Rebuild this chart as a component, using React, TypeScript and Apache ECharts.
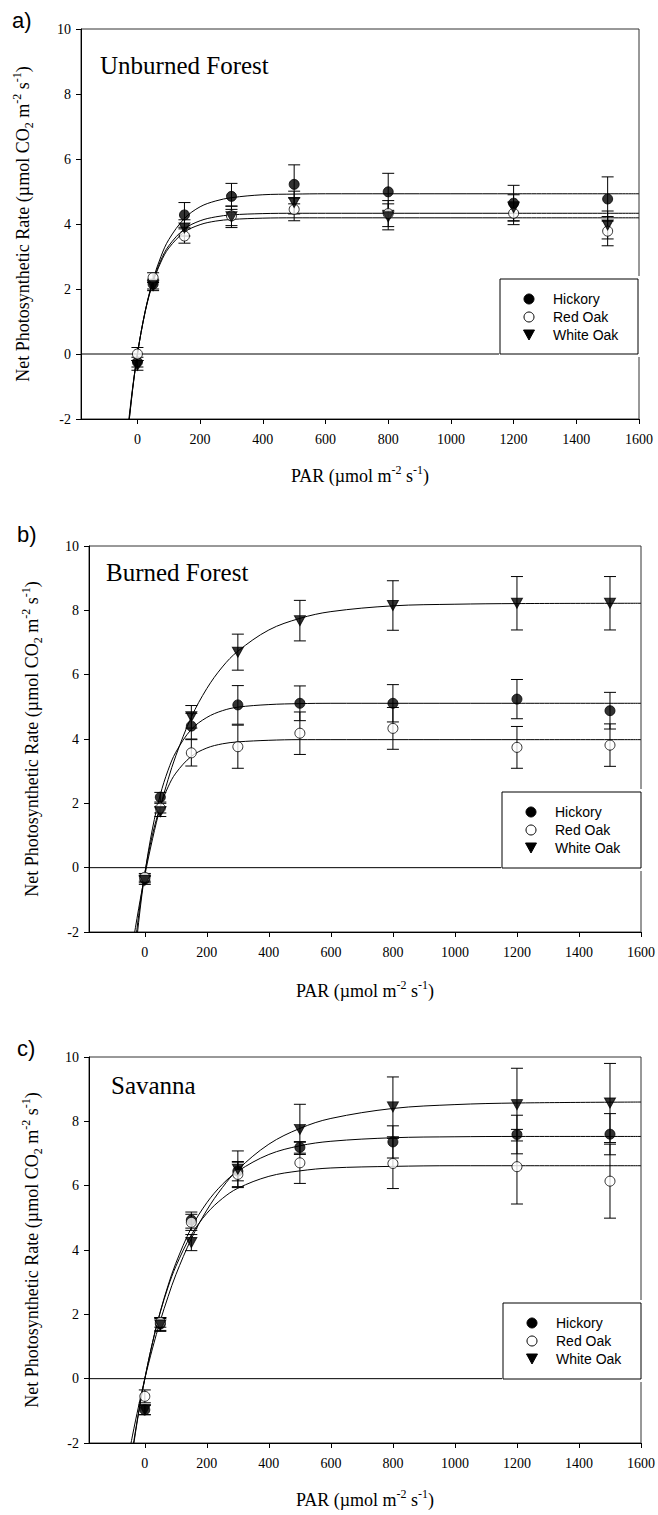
import React, { useEffect, useRef } from "react";
import * as echarts from "echarts";

// ---------- data ----------
const PAR = [0, 50, 150, 300, 500, 800, 1200, 1500];
const CURVE_PAR = [-60, -40, -20, 0, 25, 50, 75, 100, 150, 200, 250, 300, 400, 500, 600, 800, 1000, 1200, 1600];
const X_TICKS = [0, 200, 400, 600, 800, 1000, 1200, 1400, 1600];
const SPECIES = ["Hickory", "Red Oak", "White Oak"];
const PANEL_LABELS = ["a)", "b)", "c)"];
const PANEL_TITLES = ["Unburned Forest", "Burned Forest", "Savanna"];

// a) Unburned Forest
const hickoryA = [-0.25, 2.15, 4.28, 4.85, 5.22, 4.99, 4.64, 4.77];
const hickoryAErr = [0.15, 0.15, 0.38, 0.4, 0.6, 0.57, 0.55, 0.68];
const redOakA = [0.0, 2.35, 3.63, 4.25, 4.45, 4.32, 4.33, 3.78];
const redOakAErr = [0.2, 0.15, 0.22, 0.3, 0.35, 0.4, 0.35, 0.45];
const whiteOakA = [-0.35, 2.1, 3.88, 4.22, 4.66, 4.22, 4.5, 3.97];
const whiteOakAErr = [0.15, 0.15, 0.25, 0.33, 0.35, 0.4, 0.4, 0.43];
const hickoryAFit = [-5.51, -3.2, -1.4, 0, 1.32, 2.29, 3.0, 3.52, 4.17, 4.53, 4.71, 4.81, 4.9, 4.92, 4.93, 4.93, 4.93, 4.93, 4.93];
const redOakAFit = [-6.13, -3.47, -1.48, 0, 1.33, 2.25, 2.89, 3.33, 3.85, 4.1, 4.22, 4.28, 4.32, 4.33, 4.33, 4.33, 4.33, 4.33, 4.33];
const whiteOakAFit = [-6.12, -3.44, -1.47, 0, 1.31, 2.21, 2.83, 3.26, 3.75, 3.98, 4.09, 4.14, 4.18, 4.19, 4.19, 4.19, 4.19, 4.19, 4.19];

// b) Burned Forest
const hickoryB = [-0.35, 2.19, 4.4, 5.06, 5.11, 5.11, 5.24, 4.88];
const hickoryBErr = [0.12, 0.15, 0.4, 0.6, 0.54, 0.58, 0.61, 0.57];
const redOakB = [-0.3, 1.85, 3.57, 3.76, 4.18, 4.33, 3.74, 3.81];
const redOakBErr = [0.12, 0.15, 0.41, 0.67, 0.66, 0.65, 0.65, 0.66];
const whiteOakB = [-0.4, 1.74, 4.69, 6.7, 7.68, 8.15, 8.22, 8.22];
const whiteOakBErr = [0.12, 0.15, 0.35, 0.56, 0.63, 0.77, 0.83, 0.83];
const hickoryBFit = [-6.12, -3.64, -1.7, -0.19, 1.23, 2.27, 3.03, 3.59, 4.3, 4.67, 4.88, 4.99, 5.07, 5.1, 5.11, 5.11, 5.11, 5.11, 5.11];
const redOakBFit = [-5.51, -3.2, -1.49, -0.17, 1.04, 1.9, 2.51, 2.94, 3.46, 3.72, 3.85, 3.91, 3.96, 3.98, 3.98, 3.98, 3.98, 3.98, 3.98];
const whiteOakBFit = [-3.76, -2.45, -1.28, -0.24, 0.9, 1.89, 2.74, 3.48, 4.68, 5.57, 6.24, 6.73, 7.39, 7.75, 7.96, 8.14, 8.19, 8.21, 8.22];

// c) Savanna
const hickoryC = [-0.97, 1.7, 4.93, 6.45, 7.19, 7.36, 7.59, 7.6];
const hickoryCErr = [0.15, 0.2, 0.25, 0.3, 0.18, 0.5, 0.6, 0.64];
const redOakC = [-0.55, 1.75, 4.86, 6.35, 6.71, 6.69, 6.59, 6.14];
const redOakCErr = [0.2, 0.15, 0.25, 0.38, 0.64, 0.78, 1.16, 1.15];
const whiteOakC = [-0.97, 1.67, 4.23, 6.51, 7.75, 8.45, 8.52, 8.57];
const whiteOakCErr = [0.15, 0.2, 0.25, 0.57, 0.78, 0.93, 1.13, 1.23];
const hickoryCFit = [-3.58, -2.23, -1.04, 0, 1.13, 2.09, 2.9, 3.59, 4.69, 5.47, 6.04, 6.45, 6.97, 7.24, 7.38, 7.49, 7.52, 7.53, 7.53];
const redOakCFit = [-3.76, -2.32, -1.07, 0, 1.13, 2.07, 2.85, 3.49, 4.47, 5.14, 5.6, 5.92, 6.29, 6.46, 6.55, 6.6, 6.62, 6.62, 6.62];
const whiteOakCFit = [-2.8, -1.78, -0.85, 0, 0.95, 1.8, 2.55, 3.23, 4.35, 5.24, 5.94, 6.5, 7.29, 7.78, 8.09, 8.4, 8.52, 8.57, 8.6];

// ---------- layout ----------
const SERIF = "'Liberation Serif', 'Times New Roman', serif";
const SANS = "'Liberation Sans', Arial, sans-serif";

const panels = [
  {
    grid: { left: 81, top: 29, width: 558, height: 390 },
    means: [hickoryA, redOakA, whiteOakA],
    errs: [hickoryAErr, redOakAErr, whiteOakAErr],
    fits: [hickoryAFit, redOakAFit, whiteOakAFit],
    letter: [12, 20],
    title: [100, 65],
    yTitleX: 23,
    xTitleY: 476,
    legend: [500, 279, 138, 75],
  },
  {
    grid: { left: 89, top: 546, width: 552, height: 386 },
    means: [hickoryB, redOakB, whiteOakB],
    errs: [hickoryBErr, redOakBErr, whiteOakBErr],
    fits: [hickoryBFit, redOakBFit, whiteOakBFit],
    letter: [17, 534],
    title: [106, 572],
    yTitleX: 32,
    xTitleY: 991,
    legend: [502, 792, 139, 76],
  },
  {
    grid: { left: 89, top: 1057, width: 552, height: 386 },
    means: [hickoryC, redOakC, whiteOakC],
    errs: [hickoryCErr, redOakCErr, whiteOakCErr],
    fits: [hickoryCFit, redOakCFit, whiteOakCFit],
    letter: [17, 1048],
    title: [111, 1085],
    yTitleX: 32,
    xTitleY: 1500,
    legend: [503, 1303, 138, 76],
  },
];

const markerStyles = [
  { symbol: "circle", symbolSize: 10, symbolRotate: 0, itemStyle: { color: "#000", borderColor: "#000", borderWidth: 1 } },
  { symbol: "circle", symbolSize: 10, symbolRotate: 0, itemStyle: { color: "#fff", borderColor: "#000", borderWidth: 1 } },
  { symbol: "triangle", symbolSize: [11, 10], symbolRotate: 180, itemStyle: { color: "#000", borderColor: "#000", borderWidth: 1 } },
];

const errRender = (params: any, api: any) => {
  const x = api.value(0);
  const y = api.value(1);
  const e = api.value(2);
  const top = api.coord([x, y + e]);
  const bot = api.coord([x, y - e]);
  const h = 6;
  const st = { stroke: "#000", lineWidth: 1 };
  return {
    type: "group",
    children: [
      { type: "line", shape: { x1: top[0], y1: top[1], x2: bot[0], y2: bot[1] }, style: st },
      { type: "line", shape: { x1: top[0] - h, y1: top[1], x2: top[0] + h, y2: top[1] }, style: st },
      { type: "line", shape: { x1: bot[0] - h, y1: bot[1], x2: bot[0] + h, y2: bot[1] }, style: st },
    ],
  };
};

const richY = {
  n: { fontFamily: SERIF, fontSize: 18, color: "#000", lineHeight: 24 },
  sup: { fontFamily: SERIF, fontSize: 12, color: "#000", lineHeight: 14, verticalAlign: "top" },
  sub: { fontFamily: SERIF, fontSize: 12, color: "#000", lineHeight: 14, verticalAlign: "bottom" },
};

function buildOption() {
  const grid: any[] = [];
  const xAxis: any[] = [];
  const yAxis: any[] = [];
  const series: any[] = [];
  const graphic: any[] = [];

  panels.forEach((p, i) => {
    grid.push({ ...p.grid, show: true, borderColor: "#333", borderWidth: 1, containLabel: false });
    xAxis.push({
      type: "value",
      gridIndex: i,
      min: -180,
      max: 1600,
      axisLine: { show: true, onZero: false, lineStyle: { color: "#000", width: 1 } },
      axisTick: { show: true, inside: false, length: 5, customValues: X_TICKS, lineStyle: { color: "#000" } },
      axisLabel: {
        customValues: X_TICKS,
        formatter: (v: number) => String(v),
        fontFamily: SERIF,
        fontSize: 14,
        color: "#000",
        margin: 13,
      },
      splitLine: { show: false },
    });
    yAxis.push({
      type: "value",
      gridIndex: i,
      min: -2,
      max: 10,
      interval: 2,
      axisLine: { show: true, onZero: false, lineStyle: { color: "#000", width: 1 } },
      axisTick: { show: true, inside: false, length: 5, lineStyle: { color: "#000" } },
      axisLabel: { fontFamily: SERIF, fontSize: 14, color: "#000", margin: 10 },
      splitLine: { show: false },
    });

    series.push({
      type: "line",
      xAxisIndex: i,
      yAxisIndex: i,
      data: [[-180, 0], [1600, 0]],
      symbol: "none",
      silent: true,
      lineStyle: { color: "#000", width: 1 },
      z: 1,
    });

    for (let s = 0; s < 3; s++) {
      series.push({
        type: "line",
        xAxisIndex: i,
        yAxisIndex: i,
        data: CURVE_PAR.map((x, k) => [x, p.fits[s][k]]),
        symbol: "none",
        smooth: 0.35,
        silent: true,
        clip: true,
        lineStyle: { color: "#000", width: 1 },
        z: 2,
      });
    }
    for (let s = 0; s < 3; s++) {
      series.push({
        type: "custom",
        xAxisIndex: i,
        yAxisIndex: i,
        data: PAR.map((x, k) => [x, p.means[s][k], p.errs[s][k]]),
        renderItem: errRender,
        silent: true,
        z: 3,
      });
    }
    for (let s = 0; s < 3; s++) {
      series.push({
        type: "scatter",
        name: SPECIES[s],
        xAxisIndex: i,
        yAxisIndex: i,
        data: PAR.map((x, k) => [x, p.means[s][k]]),
        ...markerStyles[s],
        z: 4,
      });
    }

    graphic.push({
      type: "text",
      x: p.letter[0],
      y: p.letter[1],
      z: 100,
      style: { text: PANEL_LABELS[i], fontFamily: SANS, fontSize: 22, fill: "#000", verticalAlign: "middle", align: "left" },
    });
    graphic.push({
      type: "text",
      x: p.title[0],
      y: p.title[1],
      z: 100,
      style: { text: PANEL_TITLES[i], fontFamily: SERIF, fontSize: 25, fill: "#000", verticalAlign: "middle", align: "left" },
    });
    const cx = p.grid.left + p.grid.width / 2;
    const cy = p.grid.top + p.grid.height / 2;
    graphic.push({
      type: "text",
      x: cx,
      y: p.xTitleY,
      z: 100,
      style: {
        text: "{n|PAR (µmol m}{sup|-2}{n| s}{sup|-1}{n|)}",
        rich: richY,
        align: "center",
        verticalAlign: "middle",
      },
    });
    graphic.push({
      type: "text",
      x: p.yTitleX,
      y: cy,
      rotation: Math.PI / 2,
      z: 100,
      style: {
        text: "{n|Net Photosynthetic Rate (µmol CO}{sub|2}{n| m}{sup|-2}{n| s}{sup|-1}{n|)}",
        rich: richY,
        align: "center",
        verticalAlign: "middle",
      },
    });
    const [lx, ly, lw, lh] = p.legend;
    graphic.push({
      type: "rect",
      z: 100,
      shape: { x: lx - 1, y: ly - 3, width: lw + 6, height: lh + 6 },
      style: { fill: "#fff", stroke: null },
    });
    graphic.push({
      type: "rect",
      z: 101,
      shape: { x: lx, y: ly, width: lw, height: lh },
      style: { fill: "#fff", stroke: "#000", lineWidth: 1 },
    });
    const rows = [ly + 20, ly + 38, ly + 56];
    const mx = lx + 29;
    graphic.push({ type: "circle", z: 102, shape: { cx: mx, cy: rows[0], r: 5 }, style: { fill: "#000", stroke: "#000" } });
    graphic.push({ type: "circle", z: 102, shape: { cx: mx, cy: rows[1], r: 5 }, style: { fill: "#fff", stroke: "#000", lineWidth: 1 } });
    graphic.push({
      type: "polygon",
      z: 102,
      shape: { points: [[mx - 5.5, rows[2] - 5], [mx + 5.5, rows[2] - 5], [mx, rows[2] + 5]] },
      style: { fill: "#000", stroke: "#000" },
    });
    SPECIES.forEach((name, k) => {
      graphic.push({
        type: "text",
        z: 102,
        x: lx + 53,
        y: rows[k],
        style: { text: name, fontFamily: SANS, fontSize: 14, fill: "#000", verticalAlign: "middle", align: "left" },
      });
    });
  });

  return {
    animation: false,
    backgroundColor: "#fff",
    grid,
    xAxis,
    yAxis,
    series,
    graphic,
  };
}

export default function App() {
  const ref = useRef<HTMLDivElement>(null);
  useEffect(() => {
    if (!ref.current) return;
    const chart = echarts.init(ref.current, null, { renderer: "svg" });
    chart.setOption(buildOption() as any);
    return () => chart.dispose();
  }, []);
  return (
    <div
      ref={ref}
      style={{ position: "absolute", left: 0, top: 0, width: 658, height: 1515, background: "#fff" }}
    />
  );
}
